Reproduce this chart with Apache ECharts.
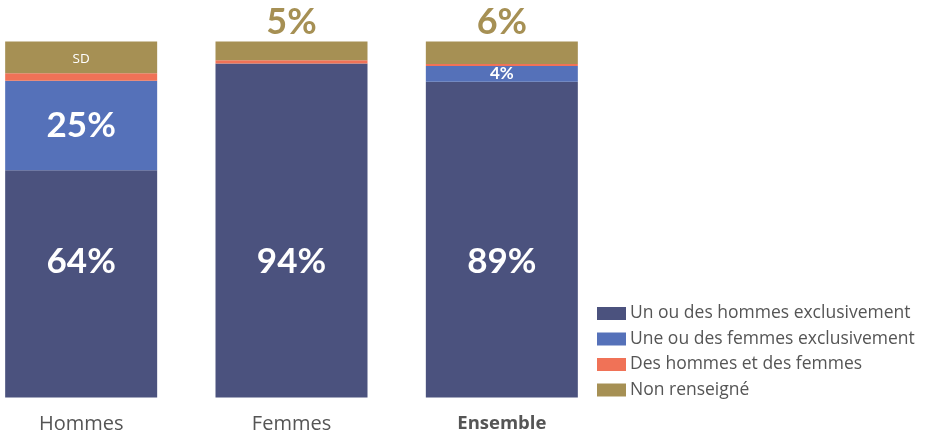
<!DOCTYPE html>
<html>
<head>
<meta charset="utf-8">
<script src="https://cdn.jsdelivr.net/npm/echarts@6/dist/echarts.min.js"></script>
<style>
  html, body { margin: 0; padding: 0; background: #fff; }
  #main { width: 929px; height: 435px; }
</style>
</head>
<body>
<div id="main"></div>
<script>
const categories = ['Hommes', 'Femmes', 'Ensemble'];
const seriesNames = ['Un ou des hommes exclusivement', 'Une ou des femmes exclusivement', 'Des hommes et des femmes', 'Non renseigné'];
const hommesExcl = [63.8, 93.8, 88.7];
const femmesExcl = [25.2, 0, 4.4];
const mixte = [2.1, 0.9, 0.6];
const nonRens = [8.9, 5.3, 6.3];
// "SD" = secret statistique
const nonRensLabels = ['SD', '5%', '6%'];

const colors = ['#4b527e', '#5571b9', '#f07257', '#a69054'];
const numFont = 'Lato';
const textFont = 'Open Sans';

const chart = echarts.init(document.getElementById('main'));

const bigLabel = {
  show: true,
  color: '#fff',
  fontFamily: numFont,
  fontWeight: 'bold',
  fontSize: 35
};

const option = {
  animation: false,
  color: colors,
  grid: { left: -24, right: 322, top: 41.5, bottom: 37.5, outerBoundsMode: 'none', containLabel: false },
  legend: {
    orient: 'vertical',
    left: 597,
    top: 304,
    padding: 0,
    itemWidth: 29,
    itemHeight: 13,
    itemGap: 6.5,
    icon: 'rect',
    textStyle: { fontFamily: textFont, fontSize: 17.5, color: '#555', lineHeight: 19, padding: [0, 0, 0, -1] },
    data: seriesNames
  },
  xAxis: {
    type: 'category',
    data: categories,
    axisLine: { show: false },
    axisTick: { show: false },
    axisLabel: {
      margin: 17,
      fontFamily: textFont,
      fontSize: 20,
      color: '#555',
      formatter: function (v) { return v === 'Ensemble' ? '{b|' + v + '}' : v; },
      rich: { b: { fontFamily: textFont, fontSize: 18.5, fontWeight: 'bold', color: '#555' } }
    }
  },
  yAxis: { type: 'value', min: 0, max: 100, show: false },
  series: [
    {
      name: seriesNames[0], type: 'bar', stack: 'tot', barWidth: 152,
      data: hommesExcl,
      label: Object.assign({}, bigLabel, {
        position: 'insideBottom', distance: 118, lineHeight: 36,
        formatter: function (p) { return Math.round(p.value) + '%'; }
      })
    },
    {
      name: seriesNames[1], type: 'bar', stack: 'tot', barWidth: 152,
      data: femmesExcl.map(function (v, i) {
        if (i === 0) return { value: v, label: Object.assign({}, bigLabel, { position: 'inside' }) };
        if (i === 2) return { value: v, label: Object.assign({}, bigLabel, { position: 'inside', fontSize: 17 }) };
        return { value: v, label: { show: false } };
      }),
      label: { formatter: function (p) { return Math.round(p.value) + '%'; } }
    },
    {
      name: seriesNames[2], type: 'bar', stack: 'tot', barWidth: 152,
      data: mixte
    },
    {
      name: seriesNames[3], type: 'bar', stack: 'tot', barWidth: 152,
      data: nonRens.map(function (v, i) {
        if (i === 0) {
          return { value: v, label: { show: true, position: 'inside', color: '#fff', fontFamily: textFont, fontSize: 13.5, offset: [0, 1.5], formatter: nonRensLabels[i] } };
        }
        return {
          value: v,
          label: {
            show: true, position: 'top', distance: 1, lineHeight: 36,
            color: colors[3], fontFamily: numFont, fontWeight: 'bold', fontSize: 36,
            formatter: nonRensLabels[i]
          }
        };
      })
    }
  ]
};

chart.setOption(option);
</script>
</body>
</html>
